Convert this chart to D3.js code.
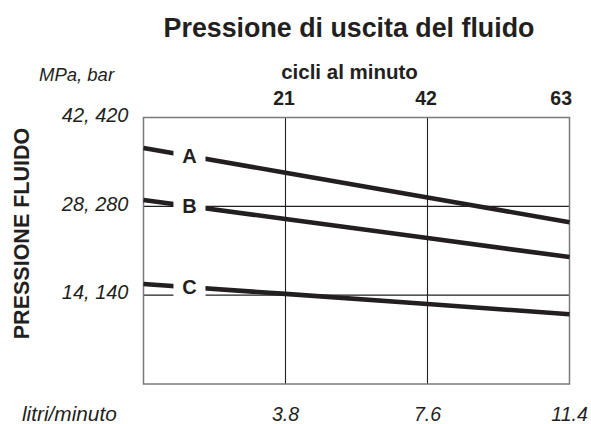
<!DOCTYPE html>
<html><head><meta charset="utf-8">
<script src="https://cdn.jsdelivr.net/npm/d3@7"></script>
<style>
html,body{margin:0;padding:0;background:#fff;}
svg{display:block;font-family:"Liberation Sans",Arial,Helvetica,sans-serif;}
</style></head>
<body>
<script>
// ---- data ----
const flowLpm = [0, 3.8, 7.6, 11.4];          // litri/minuto
const seriesNames = ["A", "B", "C"];
const seriesA = [37.2, 33.3, 29.4, 25.5];      // MPa
const seriesB = [29.0, 26.0, 23.0, 20.0];
const seriesC = [15.75, 14.2, 12.6, 11.0];
const yTicks = [42, 28, 14];
const yTickLabels = ["42, 420", "28, 280", "14, 140"];
const xTicks = [3.8, 7.6, 11.4];
const xTickLabels = ["3.8", "7.6", "11.4"];
const cycleTicks = ["21", "42", "63"];
const labelAtFlow = 1.23;

const W = 591, H = 424;
const mLeft = 143.5, mRight = 569.5, mTop = 117.5, mBottom = 384;

const svg = d3.select("body").append("svg").attr("width", W).attr("height", H);

const x = d3.scaleLinear().domain([0, 11.4]).range([mLeft, mRight]);
const y = d3.scaleLinear().domain([0, 42]).range([mBottom, mTop]);

const ink = "#231f20";

// title
svg.append("text").attr("x", 349).attr("y", 36.5).attr("text-anchor", "middle")
  .attr("font-size", 26.8).attr("font-weight", "bold").attr("fill", ink)
  .text("Pressione di uscita del fluido");

svg.append("text").attr("x", 39).attr("y", 81).attr("font-size", 18.5)
  .attr("font-style", "italic").attr("fill", ink).text("MPa, bar");

svg.append("text").attr("x", 349.5).attr("y", 78.5).attr("text-anchor", "middle")
  .attr("font-size", 20.5).attr("font-weight", "bold").attr("fill", ink)
  .text("cicli al minuto");

// y axis title
svg.append("text").attr("transform", "translate(28.5,233.5) rotate(-90)")
  .attr("text-anchor", "middle").attr("font-size", 21.5).attr("font-weight", "bold")
  .attr("fill", ink).text("PRESSIONE FLUIDO");

// gridlines
const grid = svg.append("g").attr("stroke", ink).attr("stroke-width", 1.1);
grid.selectAll("line.h").data(yTicks.filter(d => d < 42)).join("line")
  .attr("class", "h")
  .attr("x1", mLeft).attr("x2", mRight)
  .attr("y1", d => y(d)).attr("y2", d => y(d));
grid.selectAll("line.v").data(xTicks.filter(d => d < 11.4)).join("line")
  .attr("class", "v")
  .attr("x1", d => x(d)).attr("x2", d => x(d))
  .attr("y1", mTop).attr("y2", mBottom);

// frame
svg.append("rect").attr("x", mLeft).attr("y", mTop)
  .attr("width", mRight - mLeft).attr("height", mBottom - mTop)
  .attr("fill", "none").attr("stroke", "#7a7a7a").attr("stroke-width", 1.5);

// y tick labels
svg.selectAll("text.yt").data(yTicks).join("text")
  .attr("class", "yt")
  .attr("x", 128.5).attr("y", d => y(d) + 4.2).attr("text-anchor", "end")
  .attr("font-size", 20).attr("font-style", "italic").attr("fill", ink)
  .text((d, i) => yTickLabels[i]);

// x tick labels (bottom)
svg.selectAll("text.xt").data(xTicks).join("text")
  .attr("class", "xt")
  .attr("x", d => x(d)).attr("y", 421).attr("text-anchor", "middle")
  .attr("font-size", 19.5).attr("font-style", "italic").attr("fill", ink)
  .text((d, i) => xTickLabels[i]);

svg.append("text").attr("x", 22).attr("y", 421).attr("font-size", 20.8)
  .attr("font-style", "italic").attr("fill", ink).text("litri/minuto");

// cycle tick labels (top)
svg.selectAll("text.ct").data(xTicks).join("text")
  .attr("class", "ct")
  .attr("x", (d, i) => i === xTicks.length - 1 ? x(d) + 2.5 : x(d) - 1.5)
  .attr("y", 105).attr("text-anchor", (d, i) => i === xTicks.length - 1 ? "end" : "middle")
  .attr("font-size", 19.5).attr("font-weight", "bold").attr("fill", ink)
  .text((d, i) => cycleTicks[i]);

// curves
const series = [seriesA, seriesB, seriesC];
const line = d3.line().x((d, i) => x(flowLpm[i])).y(d => y(d));
svg.append("g").selectAll("path").data(series).join("path")
  .attr("d", line).attr("fill", "none").attr("stroke", ink)
  .attr("stroke-width", 4.6);

// labels with white gaps
const interp = s => {
  const i = d3.bisectRight(flowLpm, labelAtFlow) - 1;
  const t = (labelAtFlow - flowLpm[i]) / (flowLpm[i + 1] - flowLpm[i]);
  return s[i] + t * (s[i + 1] - s[i]);
};
const lab = svg.append("g");
series.forEach((s, k) => {
  const cx = x(labelAtFlow), cy = y(interp(s));
  lab.append("rect").attr("x", cx - 16).attr("y", cy - 11.5)
    .attr("width", 32).attr("height", 23).attr("fill", "#fff");
  lab.append("text").attr("x", cx).attr("y", cy + 7.2).attr("text-anchor", "middle")
    .attr("font-size", 20).attr("font-weight", "bold").attr("fill", ink)
    .text(seriesNames[k]);
});
</script>
</body></html>
